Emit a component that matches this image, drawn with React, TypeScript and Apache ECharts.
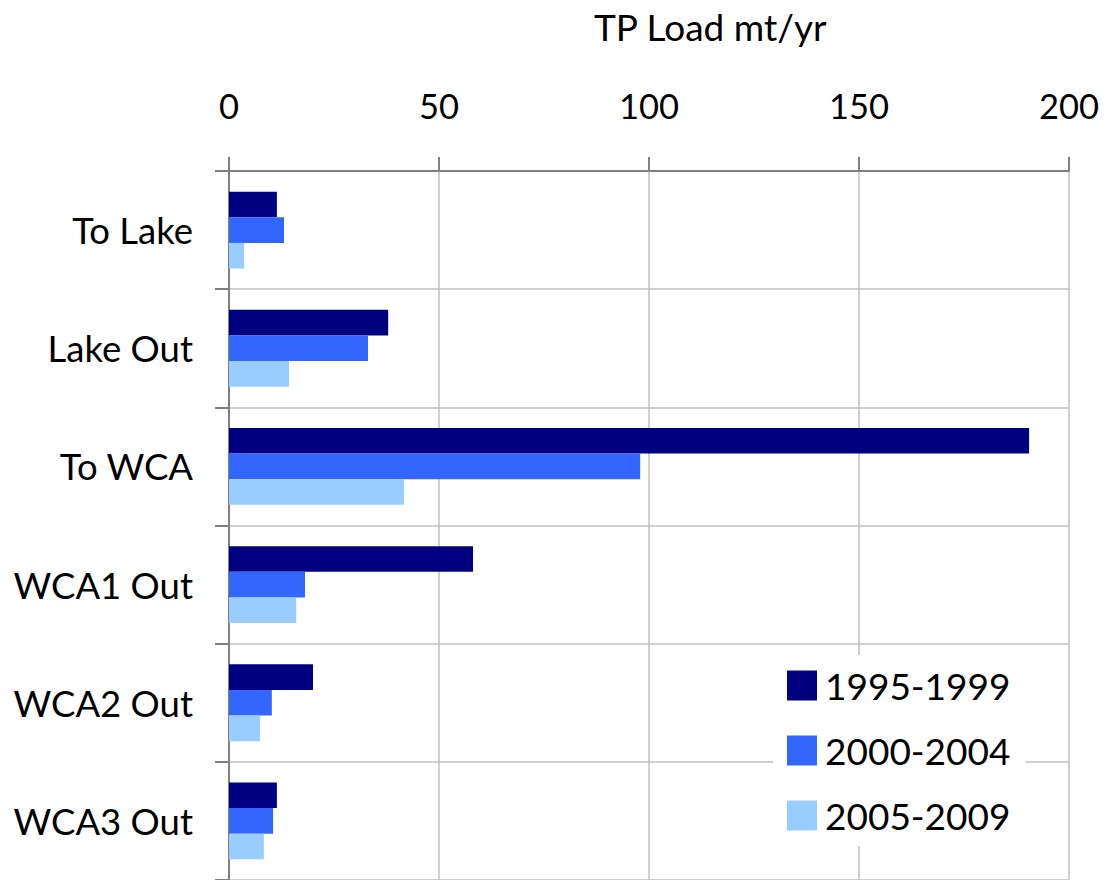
import React, { useEffect, useRef } from "react";
import * as echarts from "echarts";

const categories = ["To Lake", "Lake Out", "To WCA", "WCA1 Out", "WCA2 Out", "WCA3 Out"];
const seriesNames = ["1995-1999", "2000-2004", "2005-2009"];
const values1995 = [11.4, 37.9, 190.5, 58.1, 20.0, 11.4];
const values2000 = [13.1, 33.1, 97.9, 18.1, 10.2, 10.5];
const values2005 = [3.6, 14.3, 41.7, 16.0, 7.4, 8.3];
const xTicks = { min: 0, max: 200, interval: 50 };
const colors = ["#000080", "#3366FF", "#99CCFF"];

const FONT = "Lato";

export default function App() {
  const ref = useRef<HTMLDivElement>(null);
  useEffect(() => {
    if (!ref.current) return;
    const chart = echarts.init(ref.current, undefined, { renderer: "svg" });
    const data = [values1995, values2000, values2005];
    chart.setOption({
      animation: false,
      backgroundColor: "#ffffff",
      textStyle: { fontFamily: FONT },
      title: {
        text: "TP Load mt/yr",
        left: 589,
        top: 3,
        textStyle: { fontFamily: FONT, fontSize: 37, fontWeight: "normal", color: "#000" },
      },
      grid: { left: 229, right: 46, top: 171, bottom: -5, containLabel: false },
      legend: {
        orient: "vertical",
        left: 773,
        top: 655,
        padding: [12, 15, 12, 14],
        backgroundColor: "#ffffff",
        itemWidth: 30,
        itemHeight: 30,
        itemGap: 28,
        icon: "rect",
        data: seriesNames,
        textStyle: { fontFamily: FONT, fontSize: 37, lineHeight: 30, color: "#000", padding: [0, 0, 0, 3] },
      },
      xAxis: {
        type: "value",
        position: "top",
        min: xTicks.min,
        max: xTicks.max,
        interval: xTicks.interval,
        axisLine: { show: true, lineStyle: { color: "#808080", width: 2 } },
        axisTick: { show: true, length: 14, lineStyle: { color: "#808080", width: 2 } },
        axisLabel: { fontFamily: FONT, fontSize: 34.5, color: "#000", margin: 48 },
        splitLine: { show: true, lineStyle: { color: "#bfbfbf", width: 1.5 } },
      },
      yAxis: {
        type: "category",
        inverse: true,
        data: categories,
        axisLine: { show: true, lineStyle: { color: "#808080", width: 2 } },
        axisTick: { show: true, length: 14, lineStyle: { color: "#808080", width: 2 } },
        axisLabel: { fontFamily: FONT, fontSize: 36.5, color: "#000", margin: 36 },
        splitLine: { show: true, lineStyle: { color: "#bfbfbf", width: 1.5 } },
      },
      series: seriesNames.map((name, i) => ({
        name,
        type: "bar",
        data: data[i],
        barGap: "0%",
        barCategoryGap: "35%",
        itemStyle: { color: colors[i] },
      })),
    });
    return () => chart.dispose();
  }, []);
  return (
    <div
      ref={ref}
      style={{ position: "absolute", left: 0, top: 0, width: 1115, height: 880 }}
    />
  );
}
